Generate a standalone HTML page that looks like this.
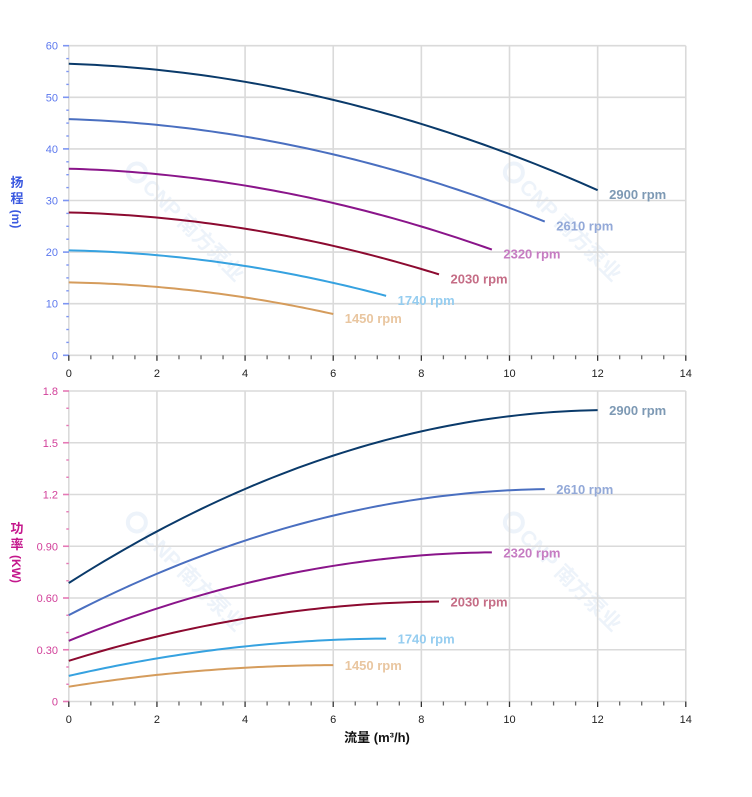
<!DOCTYPE html>
<html><head><meta charset="utf-8">
<style>
html,body{margin:0;padding:0;background:#fff;}
svg{display:block;font-family:"Liberation Sans","Noto Sans CJK SC",sans-serif;}
</style></head>
<body>
<svg id="c" width="752" height="797" viewBox="0 0 752 797" xmlns="http://www.w3.org/2000/svg"></svg>
<script>
(function(){
var svg=document.getElementById('c');
var out=[];
var x0=68.8, ux=44.07, xR=68.8+14*44.07;
function X(q){return x0+q*ux;}
var tTop=45.7,tBot=355.3; function YT(h){return tBot-h*5.16;}
var bTop=391,bBot=701.5; function YB(p){return bBot-p*172.5;}
var grid='#dadada';
// watermarks
function wm(cx,cy){
 out.push('<g transform="translate('+cx+','+cy+') rotate(45)">'+
 '<circle cx="-62" cy="-1" r="9" fill="none" stroke="#edf3fa" stroke-width="4"/>'+
 '<text x="-48" y="7" font-size="21" font-weight="bold" fill="#edf3fa">CNP 南方泵业</text></g>');
}
wm(180,217);wm(557,217);wm(180,567);wm(557,567);
function chart(top,bot,Y,maxV,major,minor,tickCol,labCol,fmt){
 for(var v=0;v<=maxV+1e-9;v+=major){
  var y=Y(v);
  out.push('<line x1="'+x0+'" y1="'+y+'" x2="'+xR+'" y2="'+y+'" stroke="'+grid+'" stroke-width="1.6"/>');
 }
 for(var q=0;q<=14;q+=2){
  out.push('<line x1="'+X(q)+'" y1="'+top+'" x2="'+X(q)+'" y2="'+bot+'" stroke="'+grid+'" stroke-width="1.6"/>');
 }
 for(var v=0;v<=maxV+1e-9;v+=minor){
  var y=Y(v);
  var isMaj=Math.abs(v/major-Math.round(v/major))<1e-6;
  if(isMaj) out.push('<line x1="63" y1="'+y+'" x2="69" y2="'+y+'" stroke="'+tickCol+'" stroke-width="1.6"/>');
  else out.push('<line x1="66.3" y1="'+y+'" x2="68.8" y2="'+y+'" stroke="'+tickCol+'" stroke-width="1.4"/>');
 }
 for(var v=0;v<=maxV+1e-9;v+=major){
  out.push('<text x="58" y="'+(Y(v)+4)+'" font-size="11" text-anchor="end" fill="'+labCol+'">'+fmt(v)+'</text>');
 }
 for(var q=0;q<=14+1e-9;q+=0.5){
  var maj=Math.abs(q/2-Math.round(q/2))<1e-6;
  out.push('<line x1="'+X(q)+'" y1="'+bot+'" x2="'+X(q)+'" y2="'+(bot+(maj?5.5:4))+'" stroke="'+(maj?'#333':'#666')+'" stroke-width="1.3"/>');
 }
 for(var q=0;q<=14;q+=2){
  out.push('<text x="'+X(q)+'" y="'+(bot+21.5)+'" font-size="11" text-anchor="middle" fill="#222">'+q+'</text>');
 }
}
chart(tTop,tBot,YT,60,10,2.5,'#7d95f2','#5c78ee',function(v){return String(v);});
var pl={0:'0',0.3:'0.30',0.6:'0.60',0.9:'0.90',1.2:'1.2',1.5:'1.5',1.8:'1.8'};
chart(bTop,bBot,YB,1.8,0.3,0.1,'#e57ab6','#d2409a',function(v){var k=Math.round(v*10)/10;return pl[k]!==undefined?pl[k]:String(k);});
function H0(q){return 56.5-0.2917*q-0.1458*q*q;}
function P0(q){return 0.687+0.16263*q-0.006594*q*q;}
var series=[
 [2900,'#0a3a6a','#7d99b4'],
 [2610,'#4a6fc0','#93a9d8'],
 [2320,'#8a158a','#c67cc2'],
 [2030,'#8c0a30','#c56d86'],
 [1740,'#36a2e0','#95cdf0'],
 [1450,'#d59c5c','#e9c6a0']
];
series.forEach(function(s){
 var r=s[0]/2900, qm=12*r, n=60, d1='',d2='';
 for(var i=0;i<=n;i++){
  var q=qm*i/n;
  var h=r*r*H0(q/r), p=r*r*r*P0(q/r);
  d1+=(i?'L':'M')+X(q).toFixed(2)+' '+YT(h).toFixed(2);
  d2+=(i?'L':'M')+X(q).toFixed(2)+' '+YB(p).toFixed(2);
 }
 out.push('<path d="'+d1+'" fill="none" stroke="'+s[1]+'" stroke-width="2"/>');
 out.push('<path d="'+d2+'" fill="none" stroke="'+s[1]+'" stroke-width="2"/>');
 var ex=X(qm), eyT=YT(r*r*H0(12)), eyB=YB(r*r*r*P0(12));
 out.push('<text x="'+(ex+11.5)+'" y="'+(eyT+9)+'" font-size="13" font-weight="bold" fill="'+s[2]+'">'+s[0]+' rpm</text>');
 out.push('<text x="'+(ex+11.5)+'" y="'+(eyB+5)+'" font-size="13" font-weight="bold" fill="'+s[2]+'">'+s[0]+' rpm</text>');
});
var bc='#3a58e0';
out.push('<text x="17" y="187" font-size="13" font-weight="bold" text-anchor="middle" fill="'+bc+'">扬</text>');
out.push('<text x="17" y="203" font-size="13" font-weight="bold" text-anchor="middle" fill="'+bc+'">程</text>');
out.push('<text transform="translate(12,219) rotate(90)" font-size="12" font-weight="bold" text-anchor="middle" fill="'+bc+'">(m)</text>');
var mc='#c4178c';
out.push('<text x="17" y="533" font-size="13" font-weight="bold" text-anchor="middle" fill="'+mc+'">功</text>');
out.push('<text x="17" y="549" font-size="13" font-weight="bold" text-anchor="middle" fill="'+mc+'">率</text>');
out.push('<text transform="translate(12,569) rotate(90)" font-size="12" font-weight="bold" text-anchor="middle" fill="'+mc+'">(KW)</text>');
out.push('<text x="377" y="742" font-size="13" font-weight="bold" text-anchor="middle" fill="#111">流量 (m³/h)</text>');
svg.innerHTML=out.join('');
})();
</script>
</body></html>
